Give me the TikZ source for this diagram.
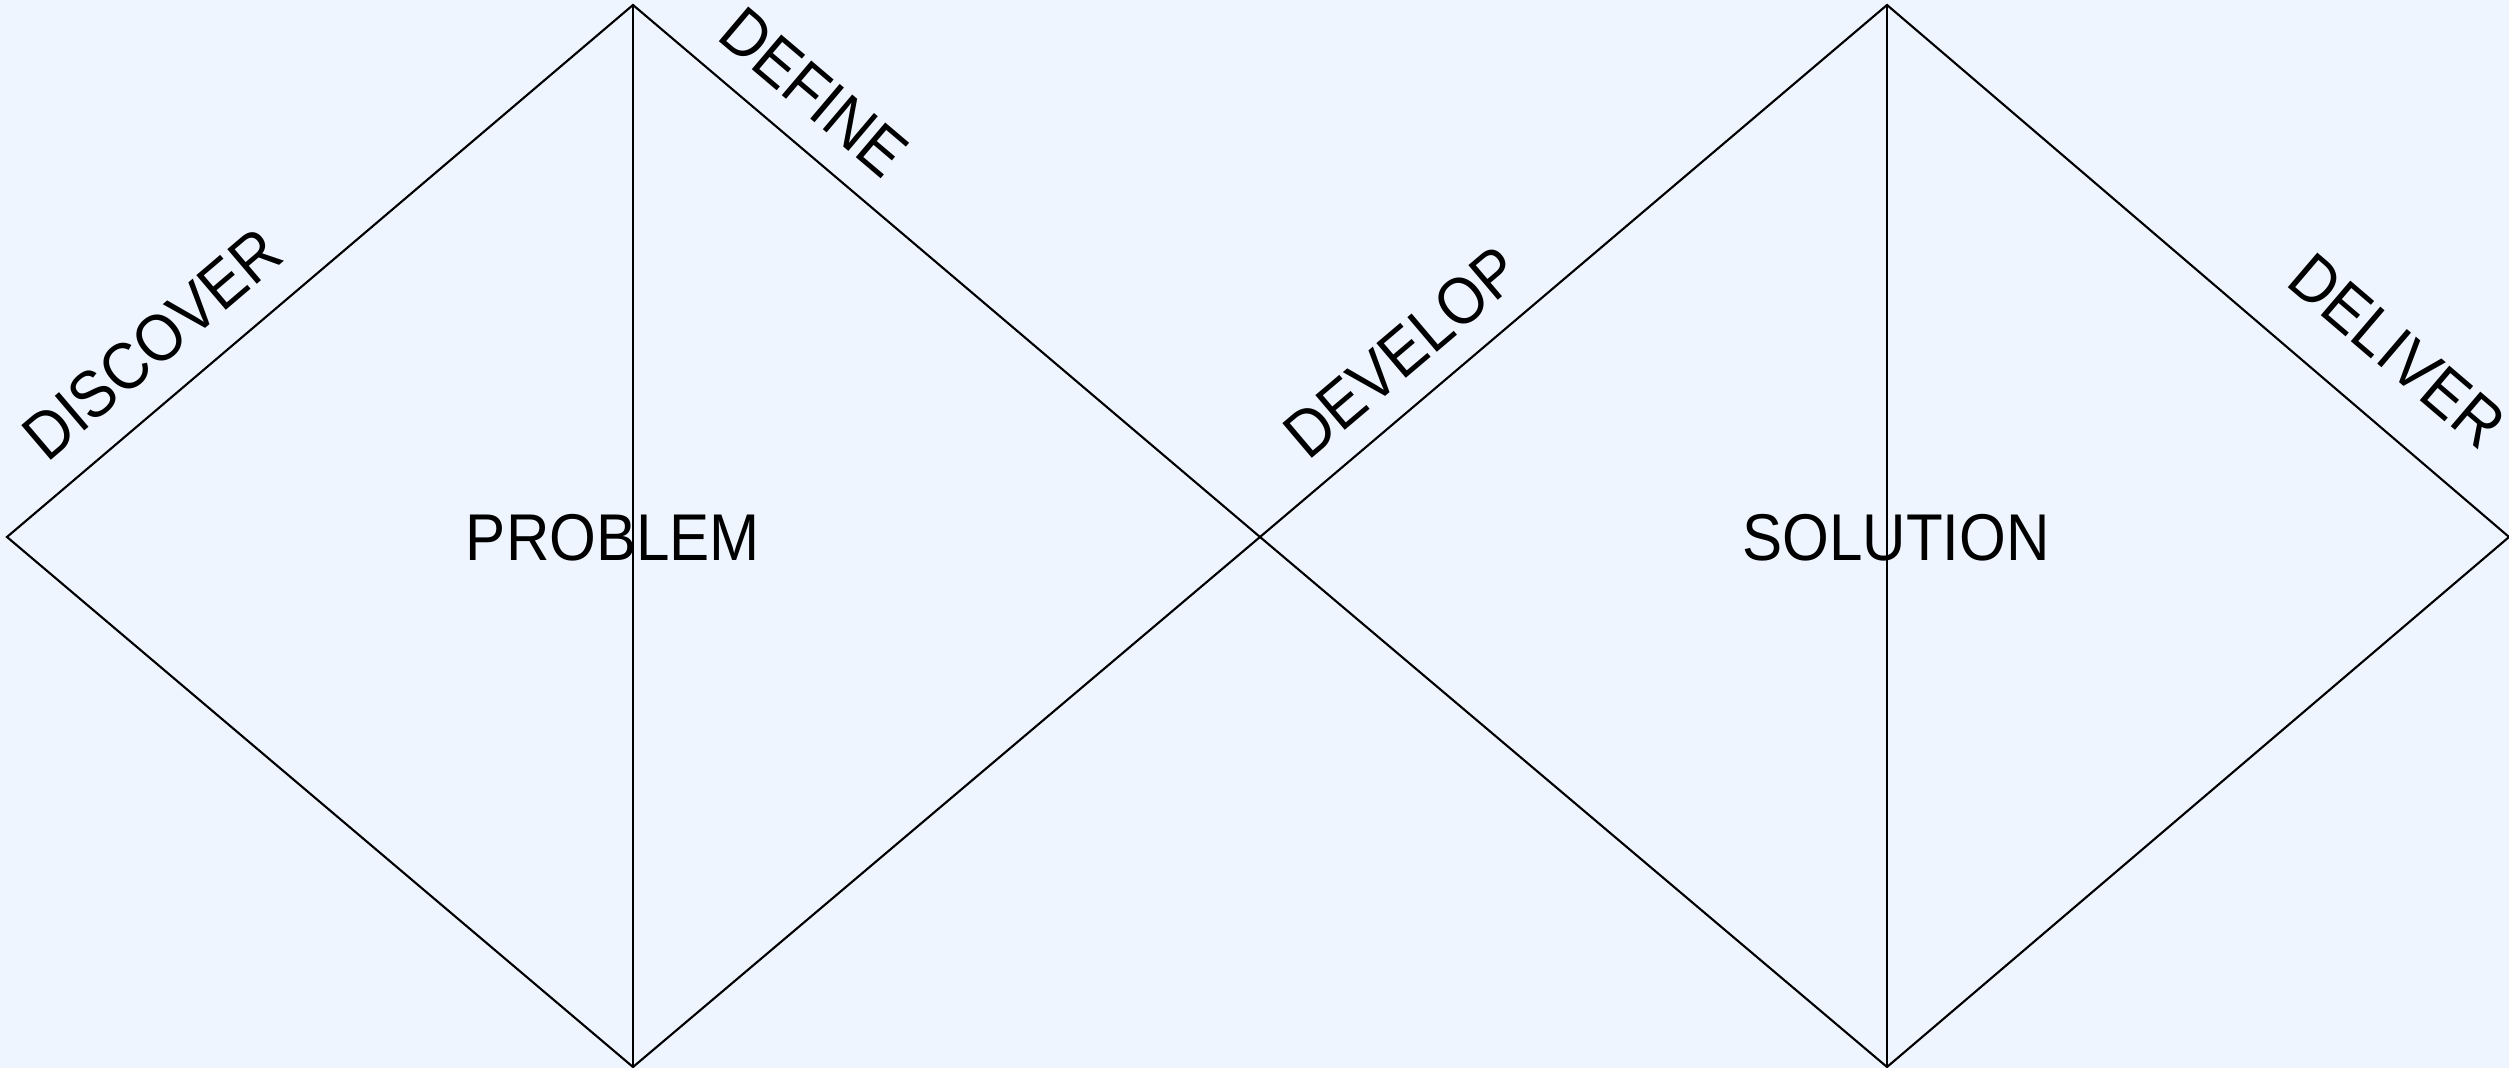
\documentclass[tikz,border=0pt]{standalone}
\usepackage{fontspec}
\setmainfont{Liberation Sans}
\definecolor{bgc}{RGB}{239,245,255}
\newcommand{\tallify}[1]{\scalebox{1}[1.1]{#1}}
\begin{document}
\begin{tikzpicture}[x=0.01cm,y=-0.01cm,
  edge/.style={draw=black,line width=0.6pt,line join=miter},
  lbl/.style={font=\fontsize{17.1pt}{20pt}\selectfont,inner sep=0pt,anchor=center}]
\fill[bgc] (0,0) rectangle (2509,1068);
\useasboundingbox (0,0) rectangle (2509,1068);
\coordinate (L) at (7,537);
\coordinate (T1) at (633,5);
\coordinate (B1) at (633,1067);
\coordinate (M) at (1260,537);
\coordinate (T2) at (1887,5);
\coordinate (B2) at (1887,1067);
\coordinate (R) at (2509,537);
\draw[edge] (L) -- (T1) -- (M) -- (B1) -- cycle;
\draw[edge] (M) -- (T2) -- (R) -- (B2) -- cycle;
\draw[edge] (T1) -- (B1);
\draw[edge] (T2) -- (B2);
\node[lbl] (problem) at (613,538) {\tallify{PROBLEM}};
\node[lbl] (solution) at (1896,538) {\tallify{SOLUTION}};
\node[lbl,rotate=40.4] (discover) at (152,344) {\tallify{DISCOVER}};
\node[lbl,rotate=-40.3] (define) at (814,92) {\tallify{DEFINE}};
\node[lbl,rotate=40.3] (develop) at (1402,352) {\tallify{DEVELOP}};
\node[lbl,rotate=-40.5] (deliver) at (2397,351) {\tallify{DELIVER}};
\end{tikzpicture}
\end{document}
